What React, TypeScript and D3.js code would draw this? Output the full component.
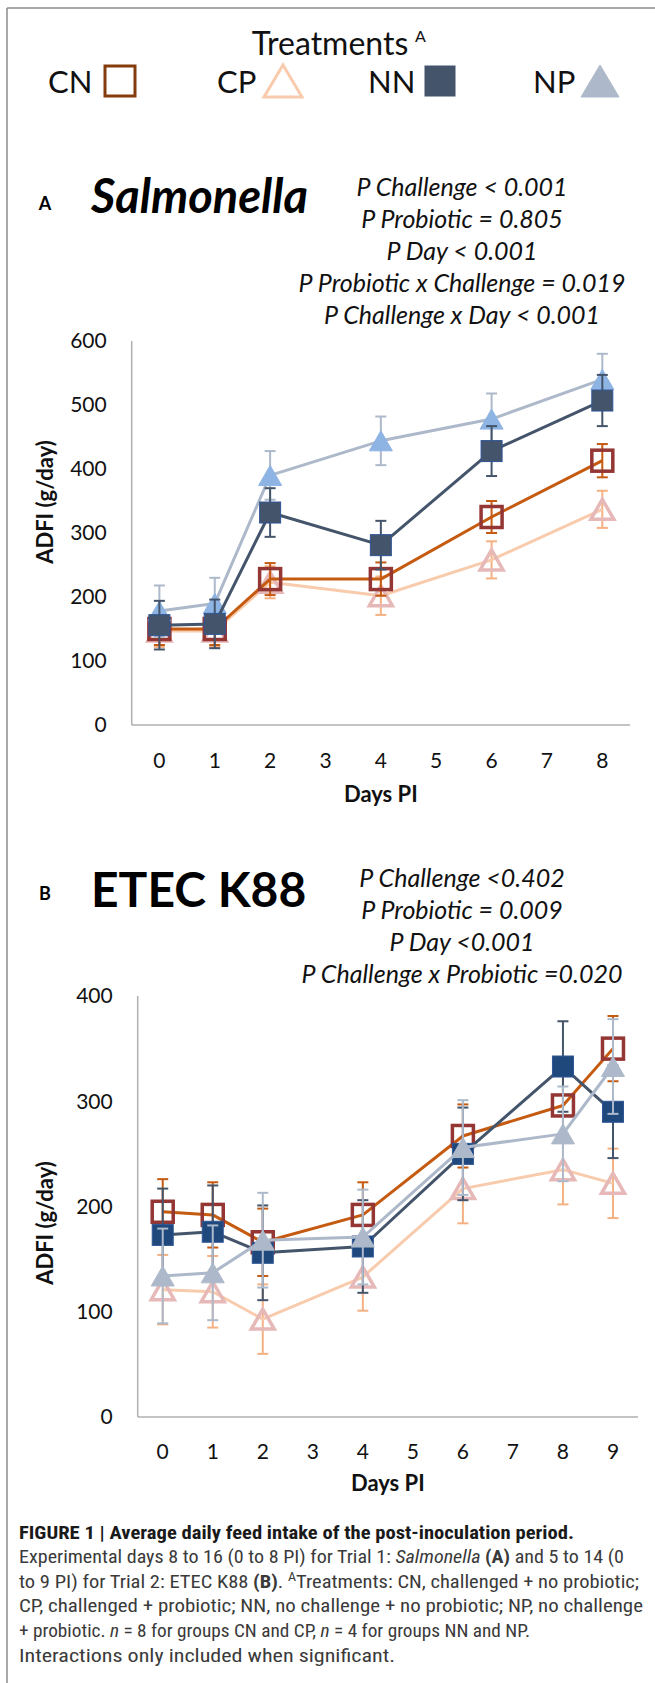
import React from "react";
import * as d3 from "d3";

const W = 655;
const H = 1683;
const FONT = "Lato, 'Open Sans', 'DejaVu Sans', sans-serif";
const CAPTION_FONT = "'Liberation Sans Narrow', 'Roboto Condensed', Roboto, 'Liberation Sans', sans-serif";

const treatments = ["CN", "CP", "NN", "NP"];

// Trial 1: Salmonella, ADFI g/day
const axisDaysA = [0, 1, 2, 3, 4, 5, 6, 7, 8];
const daysA = [0, 1, 2, 4, 6, 8];
const cnA = [150, 150, 228, 228, 325, 413];
const cnAErr = [25, 25, 25, 26, 25, 26];
const cpA = [147, 147, 223, 202, 258, 337];
const cpAErr = [25, 25, 25, 30, 29, 29];
const nnA = [156, 158, 332, 281, 428, 507];
const nnAErr = [38, 38, 38, 38, 39, 40];
const npA = [178, 190, 390, 444, 478, 540];
const npAErr = [40, 40, 38, 38, 40, 40];
const yTicksA = [0, 100, 200, 300, 400, 500, 600];
const statsA = [
  "P Challenge < 0.001",
  "P Probiotic = 0.805",
  "P Day < 0.001",
  "P Probiotic x Challenge = 0.019",
  "P Challenge x Day < 0.001",
];

// Trial 2: ETEC K88, ADFI g/day
const axisDaysB = [0, 1, 2, 3, 4, 5, 6, 7, 8, 9];
const daysB = [0, 1, 2, 4, 6, 8, 9];
const cnB = [195, 192, 166, 192, 267, 296, 350];
const cnBErr = [31, 31, 32, 31, 30, 31, 31];
const cpB = [121, 119, 93, 133, 217, 235, 222];
const cpBErr = [33, 34, 33, 32, 33, 33, 33];
const nnB = [173, 176, 156, 162, 250, 333, 290];
const nnBErr = [44, 44, 45, 44, 44, 43, 44];
const npB = [134, 137, 168, 171, 256, 269, 333];
const npBErr = [45, 45, 45, 45, 45, 45, 45];
const yTicksB = [0, 100, 200, 300, 400];
const statsB = [
  "P Challenge <0.402",
  "P Probiotic = 0.009",
  "P Day <0.001",
  "P Challenge x Probiotic =0.020",
];

interface SeriesStyle {
  line: string;
  err: string;
  shape: "square" | "triangle";
  fill: string;
  stroke: string;
  strokeWidth: number;
}

const styleA: Record<string, SeriesStyle> = {
  CN: { line: "#C55A11", err: "#C55A11", shape: "square", fill: "none", stroke: "#943634", strokeWidth: 3.5 },
  CP: { line: "#F8CBAD", err: "#F4B183", shape: "triangle", fill: "none", stroke: "#E6B9B8", strokeWidth: 3.5 },
  NN: { line: "#44546A", err: "#44546A", shape: "square", fill: "#44546A", stroke: "#2F5597", strokeWidth: 1 },
  NP: { line: "#ADB9CA", err: "#ADB9CA", shape: "triangle", fill: "#8EB4E3", stroke: "#8EB4E3", strokeWidth: 1 },
};
const styleB: Record<string, SeriesStyle> = {
  ...styleA,
  NN: { line: "#44546A", err: "#44546A", shape: "square", fill: "#1F497D", stroke: "#2F5597", strokeWidth: 1 },
  NP: { line: "#ADB9CA", err: "#ADB9CA", shape: "triangle", fill: "#ADB9CA", stroke: "#ADB9CA", strokeWidth: 1 },
};

const tri = (w: number, h: number) => `M0,${-h / 2}L${w / 2},${h / 2}L${-w / 2},${h / 2}Z`;

function Marker({ st, size }: { st: SeriesStyle; size: number }) {
  if (st.shape === "square") {
    return (
      <rect x={-size / 2} y={-size / 2} width={size} height={size}
        fill={st.fill} stroke={st.stroke} strokeWidth={st.strokeWidth} />
    );
  }
  return <path d={tri(size + 2, size - 1)} fill={st.fill} stroke={st.stroke}
    strokeWidth={st.strokeWidth} strokeLinejoin="miter" />;
}

interface PanelSeries { key: string; values: number[]; err: number[] }

function Panel({ x0, x1, y0, y1, yMax, yTicks, axisDays, days, series, styles, tickY, daysLabelY, yLabelY }: {
  x0: number; x1: number; y0: number; y1: number; yMax: number; yTicks: number[];
  axisDays: number[]; days: number[]; series: PanelSeries[]; styles: Record<string, SeriesStyle>;
  tickY: number; daysLabelY: number; yLabelY: number;
}) {
  const x = d3.scalePoint<number>().domain(axisDays).range([x0, x1]).padding(0.5);
  const y = d3.scaleLinear().domain([0, yMax]).range([y1, y0]);
  const cap = 5.5;

  return (
    <g fontFamily={FONT}>
      {/* axes */}
      <line x1={x0} x2={x0} y1={y0} y2={y1} stroke="#B0B0B0" strokeWidth={1.5} />
      <line x1={x0} x2={x1} y1={y1} y2={y1} stroke="#B0B0B0" strokeWidth={1.5} />
      {yTicks.map((t) => (
        <text key={t} x={x0 - 25} y={y(t)} dy="0.35em" textAnchor="end" fontSize={21} fill="#111">{t}</text>
      ))}
      {axisDays.map((d) => (
        <text key={d} x={x(d)} y={tickY} textAnchor="middle" fontSize={21} fill="#111">{d}</text>
      ))}
      <text x={(x0 + x1) / 2} y={daysLabelY} textAnchor="middle" fontSize={22} fontWeight="bold" fill="#111">Days PI</text>
      <text transform={`translate(53,${yLabelY}) rotate(-90)`} textAnchor="middle" fontSize={22}
        fontWeight="bold" fill="#111">ADFI (g/day)</text>

      {series.map((s) => {
        const st = styles[s.key];
        const line = d3.line<number>().x((_, i) => x(days[i])!).y((v) => y(v));
        return (
          <g key={s.key}>
            {s.values.map((v, i) => {
              const cx = x(days[i])!;
              const hi = y(v + s.err[i]);
              const lo = y(v - s.err[i]);
              return (
                <g key={i} stroke={st.err} strokeWidth={2}>
                  <line x1={cx} x2={cx} y1={hi} y2={lo} />
                  <line x1={cx - cap} x2={cx + cap} y1={hi} y2={hi} />
                  <line x1={cx - cap} x2={cx + cap} y1={lo} y2={lo} />
                </g>
              );
            })}
            <path d={line(s.values) ?? ""} fill="none" stroke={st.line} strokeWidth={3} strokeLinejoin="round" />
            {s.values.map((v, i) => (
              <g key={`m${i}`} transform={`translate(${x(days[i])},${y(v)})`}>
                <Marker st={st} size={21} />
              </g>
            ))}
          </g>
        );
      })}
    </g>
  );
}

const legendX = [
  { text: 48, mark: 120 },
  { text: 217, mark: 283 },
  { text: 368, mark: 440 },
  { text: 533, mark: 600 },
];
const legendStyle: Record<string, SeriesStyle> = {
  CN: { line: "", err: "", shape: "square", fill: "#fff", stroke: "#843C0C", strokeWidth: 3 },
  CP: { line: "", err: "", shape: "triangle", fill: "#fff", stroke: "#F8CBAD", strokeWidth: 3 },
  NN: { line: "", err: "", shape: "square", fill: "#44546A", stroke: "#44546A", strokeWidth: 1 },
  NP: { line: "", err: "", shape: "triangle", fill: "#ADB9CA", stroke: "#ADB9CA", strokeWidth: 1 },
};

function Legend() {
  return (
    <g fontFamily={FONT} fill="#111">
      <text x={330} y={55} textAnchor="middle" fontSize={32}>Treatments</text>
      <text x={415} y={42} fontSize={16}>A</text>
      {treatments.map((t, i) => {
        const st = legendStyle[t];
        return (
          <g key={t}>
            <text x={legendX[i].text} y={93} fontSize={31}>{t}</text>
            <g transform={`translate(${legendX[i].mark},81)`}>
              {st.shape === "square"
                ? <rect x={-15} y={-15} width={30} height={30} fill={st.fill} stroke={st.stroke} strokeWidth={st.strokeWidth} />
                : <path d={tri(38, 32)} fill={st.fill} stroke={st.stroke} strokeWidth={st.strokeWidth} />}
            </g>
          </g>
        );
      })}
    </g>
  );
}

function Stats({ lines, top }: { lines: string[]; top: number }) {
  return (
    <g fontFamily={FONT} fontStyle="italic" fontSize={25} fill="#111" textAnchor="middle">
      {lines.map((l, i) => (
        <text key={l} x={462} y={top + i * 32}>{l}</text>
      ))}
    </g>
  );
}

const captionY = [1539, 1563, 1588, 1612, 1637, 1662];
const captionW = [555, 605, 620, 624, 511, 376];

function Caption() {
  const common = { x: 19, fontSize: 19, fontFamily: CAPTION_FONT, lengthAdjust: "spacingAndGlyphs" as const };
  return (
    <g fill="#3a3a3a">
      <text {...common} y={captionY[0]} textLength={captionW[0]} fontWeight="bold" fill="#1a1a1a">
        FIGURE 1 | Average daily feed intake of the post-inoculation period.
      </text>
      <text {...common} y={captionY[1]} textLength={captionW[1]}>
        Experimental days 8 to 16 (0 to 8 PI) for Trial 1: <tspan fontStyle="italic">Salmonella</tspan>{" "}
        <tspan fontWeight="bold">(A)</tspan> and 5 to 14 (0
      </text>
      <text {...common} y={captionY[2]} textLength={captionW[2]}>
        to 9 PI) for Trial 2: ETEC K88 <tspan fontWeight="bold">(B)</tspan>.{" "}
        <tspan fontSize={13} dy={-7}>A</tspan><tspan dy={7}>Treatments: CN, challenged + no probiotic;</tspan>
      </text>
      <text {...common} y={captionY[3]} textLength={captionW[3]}>
        CP, challenged + probiotic; NN, no challenge + no probiotic; NP, no challenge
      </text>
      <text {...common} y={captionY[4]} textLength={captionW[4]}>
        + probiotic. <tspan fontStyle="italic">n</tspan> = 8 for groups CN and CP, <tspan fontStyle="italic">n</tspan> = 4 for groups NN and NP.
      </text>
      <text {...common} y={captionY[5]} textLength={captionW[5]}>
        Interactions only included when significant.
      </text>
    </g>
  );
}

export default function App() {
  const seriesA: PanelSeries[] = [
    { key: "CP", values: cpA, err: cpAErr },
    { key: "CN", values: cnA, err: cnAErr },
    { key: "NP", values: npA, err: npAErr },
    { key: "NN", values: nnA, err: nnAErr },
  ];
  const seriesB: PanelSeries[] = [
    { key: "CP", values: cpB, err: cpBErr },
    { key: "CN", values: cnB, err: cnBErr },
    { key: "NN", values: nnB, err: nnBErr },
    { key: "NP", values: npB, err: npBErr },
  ];

  return (
    <svg width={W} height={H} style={{ position: "absolute", left: 0, top: 0, background: "#fff" }}>
      <rect width={W} height={H} fill="#fff" />
      <line x1={7} x2={W} y1={8} y2={8} stroke="#8C8C8C" strokeWidth={1.5} />
      <line x1={7} x2={7} y1={8} y2={H} stroke="#8C8C8C" strokeWidth={1.5} />

      <Legend />

      {/* Panel A */}
      <text x={45} y={210} textAnchor="middle" fontFamily={FONT} fontWeight="bold" fontSize={18}>A</text>
      <text x={91} y={213} fontFamily={FONT} fontWeight="bold" fontStyle="italic" fontSize={47}>Salmonella</text>
      <Stats lines={statsA} top={196} />
      <Panel x0={131.7} x1={630} y0={341} y1={725} yMax={600} yTicks={yTicksA}
        axisDays={axisDaysA} days={daysA} series={seriesA} styles={styleA}
        tickY={768} daysLabelY={802} yLabelY={502} />

      {/* Panel B */}
      <text x={45} y={900} textAnchor="middle" fontFamily={FONT} fontWeight="bold" fontSize={18}>B</text>
      <text x={91} y={907} fontFamily={FONT} fontWeight="bold" fontSize={48}>ETEC K88</text>
      <Stats lines={statsB} top={887} />
      <Panel x0={137.7} x1={638} y0={996} y1={1417} yMax={400} yTicks={yTicksB}
        axisDays={axisDaysB} days={daysB} series={seriesB} styles={styleB}
        tickY={1459} daysLabelY={1491} yLabelY={1223} />

      <Caption />
    </svg>
  );
}
